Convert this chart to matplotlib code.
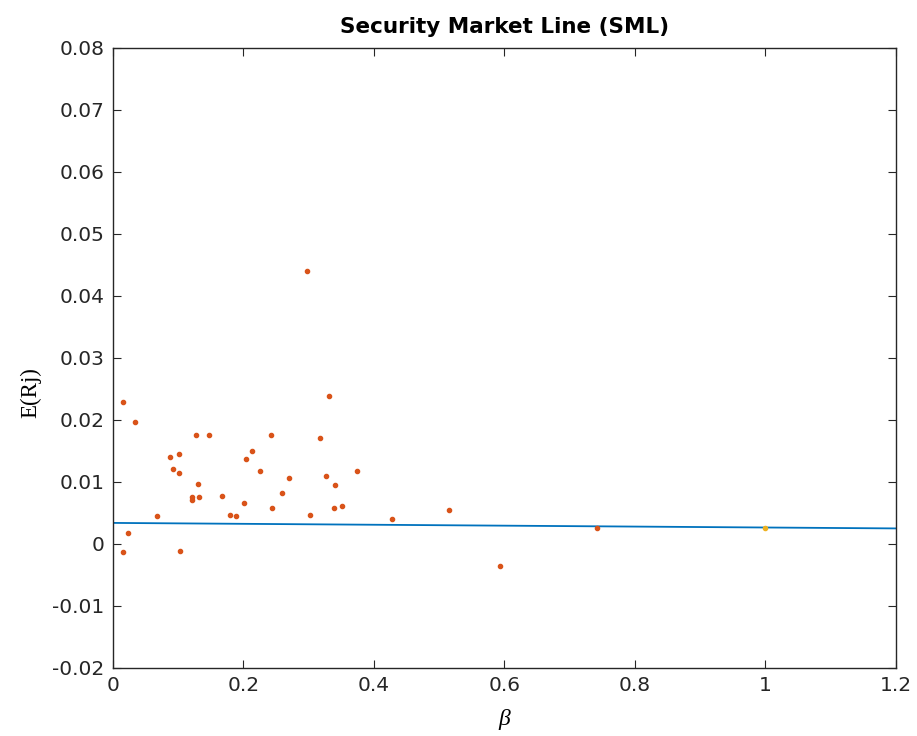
import numpy as np
import matplotlib.pyplot as plt

# betas and mean returns of the individual assets
beta = [0.0158, 0.033, 0.128, 0.1475, 0.242, 0.0868, 0.1016, 0.0919, 0.1006,
        0.1307, 0.1215, 0.1215, 0.1322, 0.1669, 0.2032, 0.2124, 0.2246, 0.2695,
        0.2588, 0.2006, 0.243, 0.0674, 0.180, 0.1884, 0.0235, 0.0148, 0.103,
        0.2966, 0.3303, 0.3175, 0.3741, 0.3267, 0.3395, 0.3385, 0.3507, 0.3017,
        0.4273, 0.5145, 0.5926, 0.7417]
ret = [0.02295, 0.0196, 0.0176, 0.0175, 0.0175, 0.01398, 0.01446, 0.01204, 0.01145,
       0.00962, 0.00758, 0.00704, 0.00764, 0.0078, 0.01376, 0.01505, 0.01172, 0.0107,
       0.00828, 0.00661, 0.00586, 0.00446, 0.00462, 0.00446, 0.00177, -0.00124, -0.00113,
       0.04403, 0.02387, 0.0171, 0.01177, 0.01097, 0.00957, 0.00575, 0.00618, 0.00468,
       0.00398, 0.00548, -0.0036, 0.00258]

# risk free rate and market portfolio
rf = 0.0034
beta_m = 1.0
ret_m = 0.00266

blue = (0, 0.447, 0.741)
orange = (0.85, 0.325, 0.098)
yellow = (0.929, 0.694, 0.125)

plt.rcParams['font.family'] = ['DejaVu Sans']

fig = plt.figure(figsize=(9.17, 7.36), dpi=100)
ax = fig.add_axes([0.1232, 0.0924, 0.8539, 0.8424])

xs = np.array([0, 1.2])
ax.plot(xs, rf + (ret_m - rf) * xs, color=blue, lw=1.3, zorder=2)
ax.plot(beta, ret, '.', color=orange, ms=6, zorder=3)
ax.plot([beta_m], [ret_m], '.', color=yellow, ms=6, zorder=3)

ax.set_xlim(0, 1.2)
ax.set_ylim(-0.02, 0.08)
ax.set_xticks([0, 0.2, 0.4, 0.6, 0.8, 1, 1.2])
ax.set_xticklabels(['0', '0.2', '0.4', '0.6', '0.8', '1', '1.2'])
ax.set_yticks(np.arange(-0.02, 0.081, 0.01))
ax.set_yticklabels(['-0.02', '-0.01', '0', '0.01', '0.02', '0.03', '0.04',
                    '0.05', '0.06', '0.07', '0.08'])
ax.tick_params(direction='in', length=6, width=0.8, labelsize=14.5, colors='#262626',
               top=True, right=True, pad=6)
for s in ax.spines.values():
    s.set_color('#262626')
    s.set_linewidth(1.0)

ax.set_title('Security Market Line (SML)', fontsize=15.5, fontweight='bold', pad=11)
ax.set_xlabel('β', family=['Liberation Serif'], style='italic', fontsize=17)
ax.set_ylabel('E(Rj)', family=['Liberation Serif'], fontsize=16.5)
ax.xaxis.set_label_coords(0.5, -0.066)
ax.yaxis.set_label_coords(-0.092, 0.445)

fig.savefig('out.png', dpi=100)
